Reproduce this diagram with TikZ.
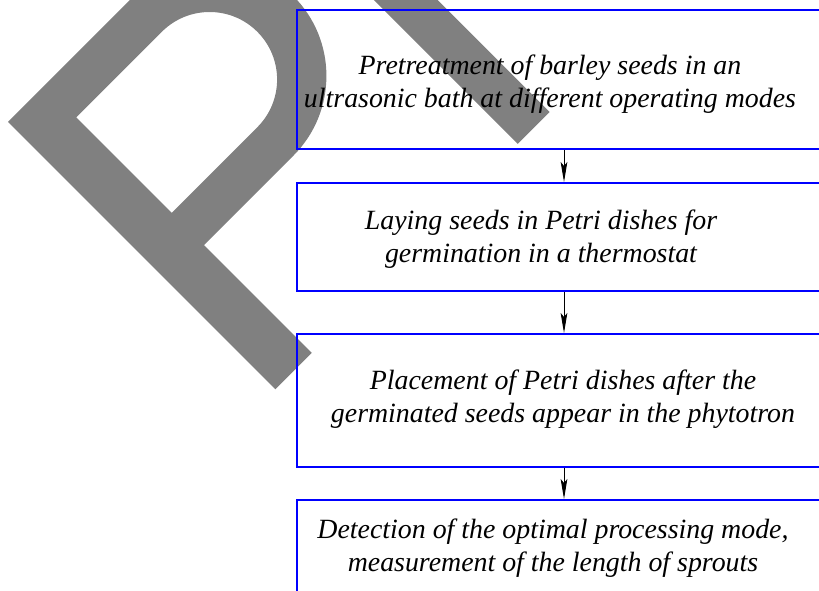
\documentclass[tikz,border=0pt]{standalone}
\usepackage{fontspec}
\setmainfont{Liberation Serif}
\usetikzlibrary{arrows.meta}

\tikzset{every picture/.style={line width=0.75pt}}
\tikzset{
  stagebox/.style={draw={rgb, 255:red, 0; green, 0; blue, 255}, line width=1.5pt, minimum width=400.5pt, inner sep=0pt},
  stagetext/.style={inner sep=0.75pt, align=center, font=\fontsize{20.9}{24.75}\selectfont\itshape},
  stagearrow/.style={-{Stealth[length=15pt,width=5pt,inset=3pt]}, line width=0.75pt},
  wmfill/.style={fill={rgb, 255:red, 128; green, 128; blue, 128}, draw=none, even odd rule}
}

\begin{document}
\begin{tikzpicture}[x=0.75pt,y=0.75pt,yscale=-1,xscale=1]
        \useasboundingbox (0,0) rectangle (819,591);
        %Shape: Letter P [watermark]
        \begin{scope}[shift={(8,122)}, rotate=-45]
        \fill [wmfill] (0,0) -- (178,0) arc [start angle=-90, end angle=90, radius=112.8] -- (51.6,225.6) -- (51.6,378) -- (0,378) -- cycle
            (51.6,45) -- (172.6,45) arc [start angle=-90, end angle=90, radius=67.5] -- (51.6,180) -- cycle ;
        %Shape: next letter stem [watermark]
        \fill [wmfill] (345,376) -- (390,376) -- (390,150) -- (345,150) -- cycle ;
        \end{scope}

        %Shape: Rectangle [id:pretreat]
        \node [stagebox, minimum height=104.25pt] (pretreat) at (564,79.5) {};
        %Shape: Rectangle [id:laying]
        \node [stagebox, minimum height=81pt] (laying) at (564,237) {};
        %Shape: Rectangle [id:placement]
        \node [stagebox, minimum height=99.75pt] (placement) at (564,400.5) {};
        %Shape: Rectangle [id:detection]
        \node [stagebox, minimum height=105pt] (detection) at (564,570) {};

        %Straight Lines
        \draw [stagearrow] (pretreat) -- (laying) ;
        %Straight Lines
        \draw [stagearrow] (laying) -- (placement) ;
        %Straight Lines
        \draw [stagearrow] (placement) -- (detection) ;

        % Text Node
        \node [stagetext] (pretreattxt) at (550,84) {Pretreatment of barley seeds in an\\ultrasonic bath at different operating modes};
        % Text Node
        \node [stagetext] (layingtxt) at (541,239) {Laying seeds in Petri dishes for\\germination in a thermostat};
        % Text Node
        \node [stagetext] (placementtxt) at (563,399) {Placement of Petri dishes after the\\germinated seeds appear in the phytotron};
        % Text Node
        \node [stagetext] (detectiontxt) at (553,548) {Detection of the optimal processing mode,\\measurement of the length of sprouts};
\end{tikzpicture}
\end{document}
